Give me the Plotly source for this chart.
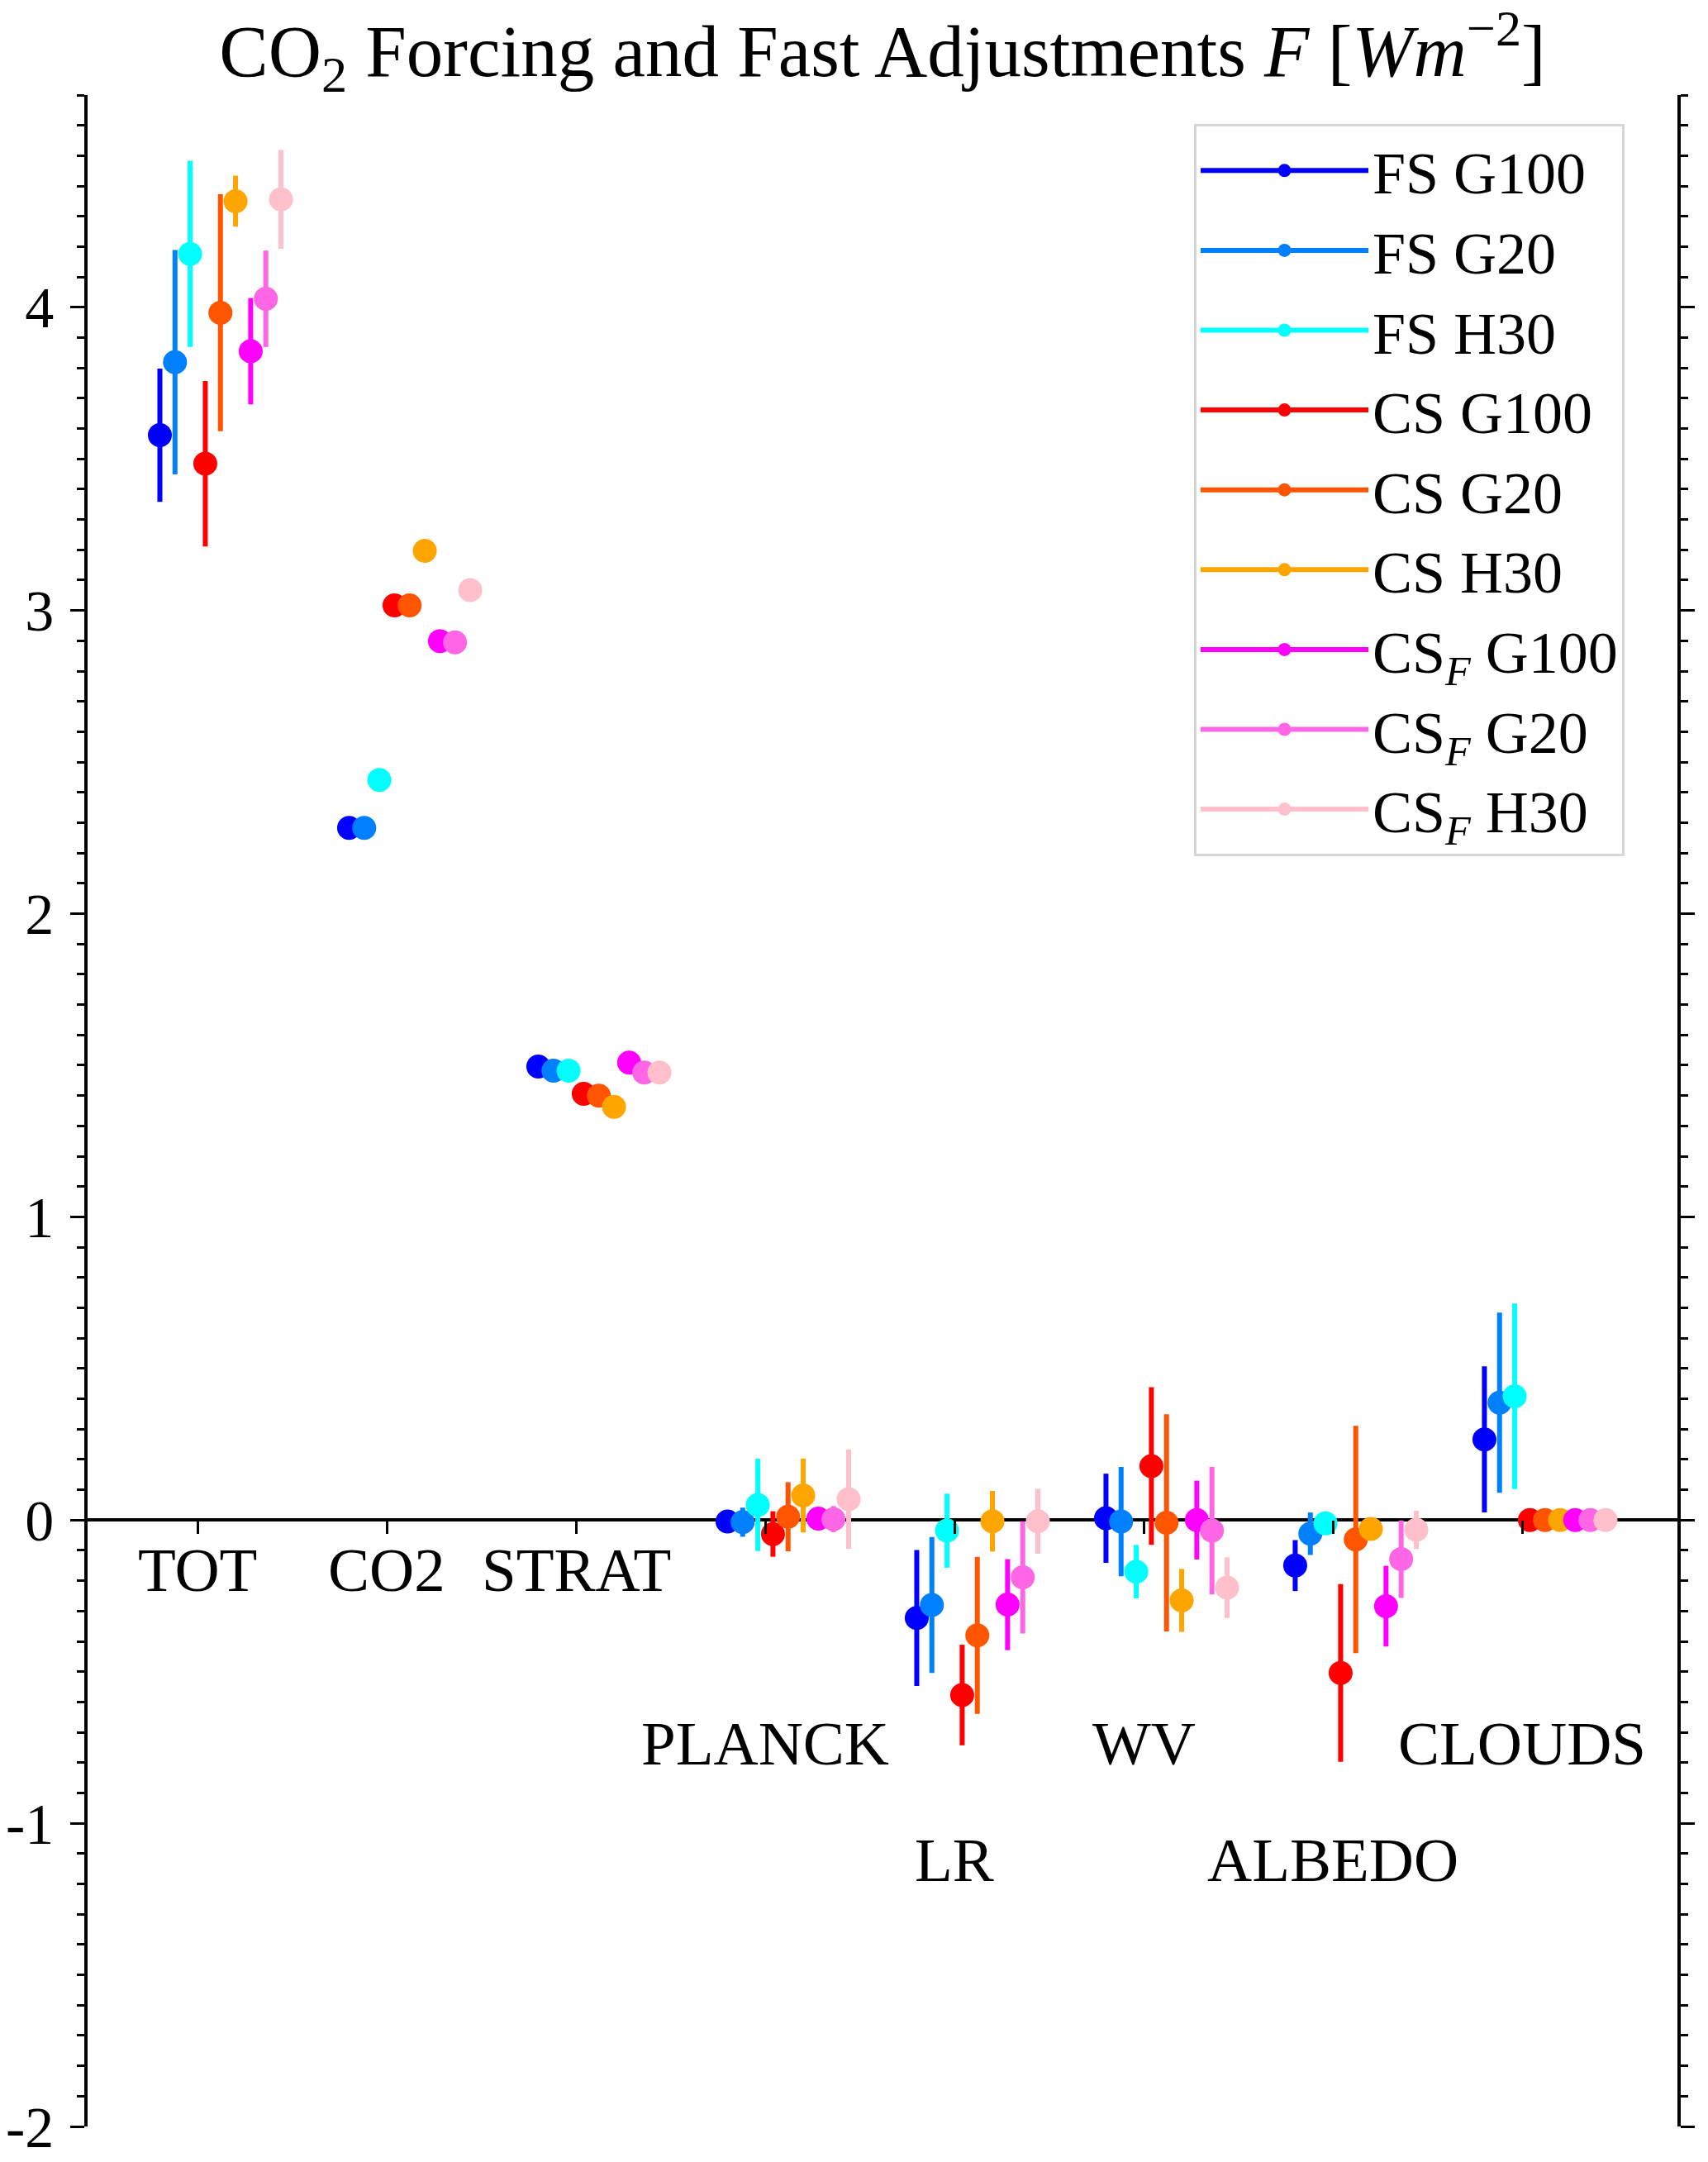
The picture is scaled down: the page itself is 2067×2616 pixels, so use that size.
import numpy as np
import plotly.graph_objects as go

# ---------------- data ----------------
categories = ["TOT", "CO2", "STRAT", "PLANCK", "LR", "WV", "ALBEDO", "CLOUDS"]

series_names = ["FS G100", "FS G20", "FS H30",
                "CS G100", "CS G20", "CS H30",
                "CS<sub><i>F</i></sub> G100", "CS<sub><i>F</i></sub> G20", "CS<sub><i>F</i></sub> H30"]

fs_g100 = [3.578, 2.283, 1.496, -0.005, -0.323, 0.006, -0.150, 0.266]
fs_g20 = [3.819, 2.283, 1.482, -0.007, -0.280, -0.005, -0.045, 0.387]
fs_h30 = [4.176, 2.441, 1.482, 0.050, -0.035, -0.170, -0.011, 0.408]
cs_g100 = [3.484, 3.017, 1.406, -0.046, -0.577, 0.178, -0.504, 0.0]
cs_g20 = [3.982, 3.017, 1.400, 0.011, -0.380, -0.009, -0.064, 0.0]
cs_h30 = [4.350, 3.197, 1.363, 0.081, -0.004, -0.265, -0.029, 0.0]
csf_g100 = [3.855, 2.899, 1.509, 0.005, -0.279, 0.000, -0.284, 0.0]
csf_g20 = [4.028, 2.895, 1.476, 0.003, -0.189, -0.035, -0.129, 0.0]
csf_h30 = [4.356, 3.067, 1.476, 0.069, -0.004, -0.223, -0.032, 0.0]

fs_g100_err = [0.220, 0.0, 0.0, 0.030, 0.224, 0.147, 0.084, 0.241]
fs_g20_err = [0.370, 0.0, 0.0, 0.048, 0.224, 0.180, 0.070, 0.297]
fs_h30_err = [0.307, 0.0, 0.0, 0.152, 0.122, 0.088, 0.020, 0.306]
cs_g100_err = [0.273, 0.0, 0.0, 0.075, 0.166, 0.260, 0.293, 0.0]
cs_g20_err = [0.391, 0.0, 0.0, 0.114, 0.259, 0.358, 0.375, 0.0]
cs_h30_err = [0.084, 0.0, 0.0, 0.122, 0.100, 0.104, 0.020, 0.0]
csf_g100_err = [0.175, 0.0, 0.0, 0.020, 0.150, 0.130, 0.133, 0.0]
csf_g20_err = [0.159, 0.0, 0.0, 0.043, 0.185, 0.210, 0.128, 0.0]
csf_h30_err = [0.163, 0.0, 0.0, 0.164, 0.107, 0.100, 0.063, 0.0]

yticks = [-2, -1, 0, 1, 2, 3, 4]
ytick_labels = ["-2", "-1", "0", "1", "2", "3", "4"]

# ---------------- style ----------------
colors = ["#0000ff", "#0080ff", "#00ffff",
          "#ff0000", "#ff5500", "#ffa500",
          "#ff00ff", "#ff66e6", "#ffc0cb"]
values = [fs_g100, fs_g20, fs_h30, cs_g100, cs_g20, cs_h30, csf_g100, csf_g20, csf_h30]
errors = [fs_g100_err, fs_g20_err, fs_h30_err, cs_g100_err, cs_g20_err, cs_h30_err,
          csf_g100_err, csf_g20_err, csf_h30_err]

label_levels = [-0.164, -0.164, -0.164, -0.737, -1.12, -0.737, -1.12, -0.737]
offset_step = 0.08
FONT = "Liberation Serif"

W, H = 2067, 2616
L, R, T, B = 106, 2030, 115, 2573

fig = go.Figure()
cat_idx = np.arange(len(categories))


def interleave(arr):
    out = []
    for a in arr:
        out.extend([a, None])
    return out


for j, (name, vals, errs, col) in enumerate(zip(series_names, values, errors, colors)):
    xs = cat_idx + (j - 2.5) * offset_step
    fig.add_trace(go.Scatter(
        x=interleave(list(xs)), y=interleave(vals),
        mode="lines+markers", name=name, connectgaps=False,
        line=dict(color=col, width=6),
        marker=dict(color=col, size=29, line=dict(width=0)),
        error_y=dict(type="data", array=interleave(errs), visible=True,
                     color=col, thickness=6, width=0),
    ))

# dummy on right axis so it renders
fig.add_trace(go.Scatter(x=[None], y=[None], yaxis="y2", showlegend=False,
                         hoverinfo="skip"))

for i, cat in enumerate(categories):
    fig.add_annotation(x=i, y=label_levels[i], xref="x", yref="y", text=cat,
                       showarrow=False, font=dict(family=FONT, size=75, color="black"),
                       xanchor="center", yanchor="middle")

yr = [-2, 4.7]
axis_common = dict(range=yr, tickmode="array", tickvals=yticks,
                   ticks="outside", ticklen=17, tickwidth=3, tickcolor="black",
                   showline=True, linecolor="black", linewidth=3.5,
                   showgrid=False, automargin=False,
                   minor=dict(dtick=0.1, tick0=0, ticks="outside", ticklen=9,
                              tickwidth=3, tickcolor="black", showgrid=False))

fig.update_layout(
    width=W, height=H, autosize=False,
    margin=dict(l=L, r=W - R, t=T, b=H - B, pad=0, autoexpand=False),
    paper_bgcolor="white", plot_bgcolor="white",
    font=dict(family=FONT, color="black", size=70),
    title=dict(text="CO<sub>2</sub> Forcing and Fast Adjustments <i>F</i> [<i>Wm</i><sup>\u22122</sup>]",
               font=dict(family=FONT, size=89, color="black"),
               x=0.5, xref="paper", xanchor="center",
               y=1 - 61 / H, yref="container", yanchor="middle", automargin=False),
    xaxis=dict(range=[-0.582, 7.82], tickmode="array", tickvals=list(cat_idx),
               showticklabels=False, ticks="outside", ticklen=16, tickwidth=3,
               tickcolor="black", showline=False, showgrid=False, zeroline=False,
               anchor="free", position=(0 - yr[0]) / (yr[1] - yr[0]),
               layer="above traces", automargin=False),
    yaxis=dict(**axis_common, ticktext=ytick_labels, zeroline=True,
               zerolinecolor="black", zerolinewidth=4, layer="above traces",
               ticklabelstandoff=6, tickfont=dict(family=FONT, size=70)),
    yaxis2=dict(**axis_common, overlaying="y", side="right", showticklabels=False,
                zeroline=False, layer="above traces"),
    legend=dict(x=(1445 - L) / (R - L), y=(B - 150) / (B - T), xanchor="left", yanchor="top",
                bgcolor="white", bordercolor="#d6d6d6", borderwidth=3,
                font=dict(family=FONT, size=72, color="black"),
                tracegroupgap=0, itemwidth=203),
    showlegend=True,
)

fig.write_html("out.html", config={"displayModeBar": False},
               post_script="document.body.style.margin='0';document.body.style.padding='0';"
                           "document.documentElement.style.overflow='hidden';")
